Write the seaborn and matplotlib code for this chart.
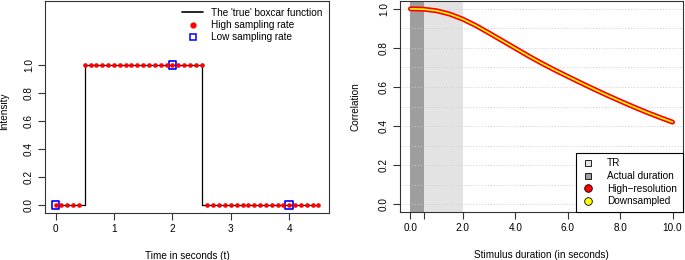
import numpy as np
import pandas as pd
import matplotlib
matplotlib.use("Agg")
import matplotlib.pyplot as plt
from matplotlib.lines import Line2D
import seaborn as sns

# left panel: boxcar function sampled at two rates
box_t = [0.0, 0.5, 2.5, 4.5]
box_y = [0, 1, 0, 0]

high_t = [round(0.1 * i, 1) for i in range(46)]
high_y = [0] * 5 + [1] * 21 + [0] * 20

low_t = [0, 2, 4]
low_y = [0, 1, 0]

# right panel: correlation vs stimulus duration
dur = [0.0, 0.5, 1.0, 1.5, 2.0, 2.5, 3.0, 3.5, 4.0, 4.5, 5.0,
       5.5, 6.0, 6.5, 7.0, 7.5, 8.0, 8.5, 9.0, 9.5, 10.0]
corr = [1.0, 0.998, 0.99, 0.973, 0.947, 0.914, 0.876, 0.837, 0.798, 0.759, 0.722,
        0.687, 0.654, 0.621, 0.589, 0.558, 0.528, 0.499, 0.471, 0.445, 0.42]

tr = 2.0
actual_duration = 0.5

sns.set_theme(style="ticks")
plt.rcParams["font.family"] = ["Liberation Sans", "DejaVu Sans"]
plt.rcParams["font.size"] = 7.2
plt.rcParams["axes.labelsize"] = 7.2
plt.rcParams["axes.edgecolor"] = "#333333"
plt.rcParams["axes.linewidth"] = 0.8
plt.rcParams["xtick.color"] = "#333333"
plt.rcParams["ytick.color"] = "#333333"
plt.rcParams["xtick.labelcolor"] = "black"
plt.rcParams["ytick.labelcolor"] = "black"
plt.rcParams["text.color"] = "black"
plt.rcParams["axes.labelcolor"] = "black"

fig = plt.figure(figsize=(6.85, 2.6), dpi=100)
ax1 = fig.add_axes([45 / 685, 47 / 260, 284 / 685, 212 / 260])
ax2 = fig.add_axes([400 / 685, 48 / 260, 283 / 685, 211 / 260])

# ---- left panel
df_box = pd.DataFrame({"t": box_t, "y": box_y})
sns.lineplot(data=df_box, x="t", y="y", ax=ax1, color="black", linewidth=0.9,
             drawstyle="steps-post", zorder=1)
sns.scatterplot(x=low_t, y=low_y, ax=ax1, marker="s", s=30, facecolor="none",
                edgecolor="blue", linewidth=1.2, zorder=2)
sns.scatterplot(x=high_t, y=high_y, ax=ax1, color="red", s=11, linewidth=0, zorder=3)

ax1.set_xlim(-0.18, 4.68)
ax1.set_ylim(-0.056, 1.456)
ax1.set_xticks([0, 1, 2, 3, 4])
ax1.set_yticks([0, 0.2, 0.4, 0.6, 0.8, 1.0])
ax1.set_yticklabels(["0.0", "0.2", "0.4", "0.6", "0.8", "1.0"], rotation=90, va="center")
ax1.set_xlabel("Time in seconds (t)", labelpad=12)
ax1.set_ylabel("Intensity")
ax1.yaxis.set_label_coords(-0.128, 0.48)
ax1.tick_params(length=5, width=0.8, pad=3, labelsize=7.2)

h1 = [Line2D([], [], color="black", lw=1.2),
      Line2D([], [], color="red", marker="o", ls="none", markersize=3.5),
      Line2D([], [], color="blue", marker="s", ls="none", markersize=4,
             markerfacecolor="none", markeredgewidth=1.1)]
ax1.legend(h1, ["The 'true' boxcar function", "High sampling rate", "Low sampling rate"],
           loc="upper right", frameon=False, fontsize=7.2, handlelength=2.1,
           labelspacing=0.25, borderaxespad=0.25, handletextpad=0.8)

for s in ax1.spines.values():
    s.set_visible(True)

# ---- right panel
ax2.axvspan(0, tr, color="#e3e3e3", lw=0, zorder=0)
ax2.axvspan(0, actual_duration, color="#9e9e9e", lw=0, zorder=0.5)
for g in np.arange(0, 1.05, 0.1):
    ax2.axhline(g, color="#cccccc", lw=0.7, ls=(0, (1, 2)), zorder=0.7)

df_corr = pd.DataFrame({"dur": dur, "corr": corr})
sns.lineplot(data=df_corr, x="dur", y="corr", ax=ax2, color="red", linewidth=3.6,
             solid_capstyle="round", solid_joinstyle="round", zorder=2)
sns.lineplot(data=df_corr, x="dur", y="corr", ax=ax2, color="yellow", linewidth=1.2,
             solid_capstyle="round", solid_joinstyle="round", zorder=3)

ax2.set_xlim(-0.4, 10.4)
ax2.set_ylim(-0.04, 1.04)
ax2.set_xticks([0, 0.5, 2, 4, 6, 8, 10])
ax2.set_xticklabels(["0.0", "", "2.0", "4.0", "6.0", "8.0", "10.0"])
ax2.set_yticks([0, 0.2, 0.4, 0.6, 0.8, 1.0])
ax2.set_yticklabels(["0.0", "0.2", "0.4", "0.6", "0.8", "1.0"], rotation=90, va="center")
ax2.set_xlabel("Stimulus duration (in seconds)", labelpad=12)
ax2.set_ylabel("Correlation")
ax2.yaxis.set_label_coords(-0.141, 0.5)
ax2.tick_params(length=5, width=0.8, pad=3, labelsize=7.2)

h2 = [Line2D([], [], marker="s", ls="none", markersize=5, markerfacecolor="#e3e3e3",
             markeredgecolor="black", markeredgewidth=0.6),
      Line2D([], [], marker="s", ls="none", markersize=5, markerfacecolor="#9e9e9e",
             markeredgecolor="black", markeredgewidth=0.6),
      Line2D([], [], marker="o", ls="none", markersize=5.5, markerfacecolor="red",
             markeredgecolor="black", markeredgewidth=0.6),
      Line2D([], [], marker="o", ls="none", markersize=5.5, markerfacecolor="yellow",
             markeredgecolor="black", markeredgewidth=0.6)]
leg2 = ax2.legend(h2, ["TR", "Actual duration", "High\u2212resolution", "Downsampled"],
                  loc="lower right", fontsize=7.2, fancybox=False, framealpha=1,
                  edgecolor="black", borderaxespad=0.0, labelspacing=0.25,
                  handlelength=1.2, handletextpad=1.3, borderpad=0.6)
leg2.get_frame().set_linewidth(0.8)

for s in ax2.spines.values():
    s.set_visible(True)

plt.savefig("out.png", dpi=100)
